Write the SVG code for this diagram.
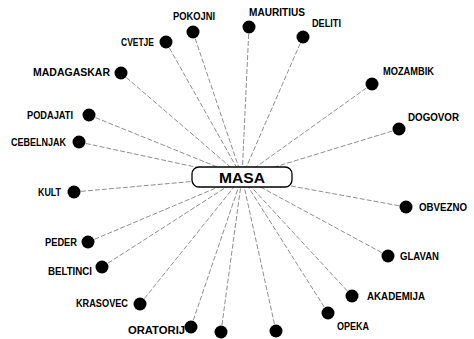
<svg xmlns="http://www.w3.org/2000/svg" width="474" height="339" viewBox="0 0 474 339">
<style>
.c{stroke:#8f8f8f;stroke-width:1;stroke-dasharray:5 2;fill:none}
.n{fill:#000}
.t{font-family:"Liberation Sans",Arial,sans-serif;font-weight:bold;font-size:10px;fill:#000}
.m{font-family:"Liberation Sans",Arial,sans-serif;font-weight:bold;font-size:15px;fill:#000}
</style>
<rect width="474" height="339" fill="#fff"/>
<g id="connectors">
<line class="c" x1="193" y1="32" x2="242" y2="177"/>
<line class="c" x1="166" y1="42" x2="242" y2="177"/>
<line class="c" x1="121" y1="73" x2="242" y2="177"/>
<line class="c" x1="89" y1="115" x2="242" y2="177"/>
<line class="c" x1="79" y1="142" x2="242" y2="177"/>
<line class="c" x1="74" y1="192" x2="242" y2="177"/>
<line class="c" x1="88" y1="242" x2="242" y2="177"/>
<line class="c" x1="102" y1="267" x2="242" y2="177"/>
<line class="c" x1="140" y1="304" x2="242" y2="177"/>
<line class="c" x1="191" y1="327" x2="242" y2="177"/>
<line class="c" x1="221" y1="332" x2="242" y2="177"/>
<line class="c" x1="276" y1="331" x2="242" y2="177"/>
<line class="c" x1="328" y1="313" x2="242" y2="177"/>
<line class="c" x1="352" y1="296" x2="242" y2="177"/>
<line class="c" x1="388" y1="256" x2="242" y2="177"/>
<line class="c" x1="406" y1="207" x2="242" y2="177"/>
<line class="c" x1="399" y1="129" x2="242" y2="177"/>
<line class="c" x1="372" y1="84" x2="242" y2="177"/>
<line class="c" x1="303" y1="37" x2="242" y2="177"/>
<line class="c" x1="249" y1="27" x2="242" y2="177"/>
</g>
<g id="masa">
<rect x="192" y="167" width="100" height="20" rx="7" fill="#fff" stroke="#000" stroke-width="1.3"/>
<text class="m" x="242" y="182.5" text-anchor="middle" textLength="46" lengthAdjust="spacingAndGlyphs">MASA</text>
</g>
<g id="pokojni"><circle class="n" cx="193" cy="32" r="6.5"/><text class="t" x="173" y="19.6" textLength="42" lengthAdjust="spacingAndGlyphs">POKOJNI</text></g>
<g id="cvetje"><circle class="n" cx="166" cy="42" r="6.5"/><text class="t" x="121" y="45.6" textLength="33" lengthAdjust="spacingAndGlyphs">CVETJE</text></g>
<g id="madagaskar"><circle class="n" cx="121" cy="73" r="6.5"/><text class="t" x="33" y="75.6" textLength="77" lengthAdjust="spacingAndGlyphs">MADAGASKAR</text></g>
<g id="podajati"><circle class="n" cx="89" cy="115" r="6.5"/><text class="t" x="27" y="118.6" textLength="46" lengthAdjust="spacingAndGlyphs">PODAJATI</text></g>
<g id="cebelnjak"><circle class="n" cx="79" cy="142" r="6.5"/><text class="t" x="11" y="145.6" textLength="55" lengthAdjust="spacingAndGlyphs">CEBELNJAK</text></g>
<g id="kult"><circle class="n" cx="74" cy="192" r="6.5"/><text class="t" x="38" y="195.6" textLength="23" lengthAdjust="spacingAndGlyphs">KULT</text></g>
<g id="peder"><circle class="n" cx="88" cy="242" r="6.5"/><text class="t" x="45" y="245.6" textLength="32" lengthAdjust="spacingAndGlyphs">PEDER</text></g>
<g id="beltinci"><circle class="n" cx="102" cy="267" r="6.5"/><text class="t" x="48" y="274.6" textLength="44" lengthAdjust="spacingAndGlyphs">BELTINCI</text></g>
<g id="krasovec"><circle class="n" cx="140" cy="304" r="6.5"/><text class="t" x="76" y="306.6" textLength="52" lengthAdjust="spacingAndGlyphs">KRASOVEC</text></g>
<g id="oratorij"><circle class="n" cx="191" cy="327" r="6.5"/><text class="t" x="128" y="333.6" textLength="57" lengthAdjust="spacingAndGlyphs">ORATORIJ</text></g>
<g id="node-a"><circle class="n" cx="221" cy="332" r="6.5"/></g>
<g id="node-b"><circle class="n" cx="276" cy="331" r="6.5"/></g>
<g id="opeka"><circle class="n" cx="328" cy="313" r="6.5"/><text class="t" x="337" y="329.6" textLength="32" lengthAdjust="spacingAndGlyphs">OPEKA</text></g>
<g id="akademija"><circle class="n" cx="352" cy="296" r="6.5"/><text class="t" x="367" y="299.6" textLength="58" lengthAdjust="spacingAndGlyphs">AKADEMIJA</text></g>
<g id="glavan"><circle class="n" cx="388" cy="256" r="6.5"/><text class="t" x="400" y="259.6" textLength="39" lengthAdjust="spacingAndGlyphs">GLAVAN</text></g>
<g id="obvezno"><circle class="n" cx="406" cy="207" r="6.5"/><text class="t" x="419" y="210.6" textLength="48" lengthAdjust="spacingAndGlyphs">OBVEZNO</text></g>
<g id="dogovor"><circle class="n" cx="399" cy="129" r="6.5"/><text class="t" x="408" y="120.6" textLength="51" lengthAdjust="spacingAndGlyphs">DOGOVOR</text></g>
<g id="mozambik"><circle class="n" cx="372" cy="84" r="6.5"/><text class="t" x="383" y="74.6" textLength="51" lengthAdjust="spacingAndGlyphs">MOZAMBIK</text></g>
<g id="deliti"><circle class="n" cx="303" cy="37" r="6.5"/><text class="t" x="312" y="26.6" textLength="29" lengthAdjust="spacingAndGlyphs">DELITI</text></g>
<g id="mauritius"><circle class="n" cx="249" cy="27" r="6.5"/><text class="t" x="249" y="15.6" textLength="56" lengthAdjust="spacingAndGlyphs">MAURITIUS</text></g>
</svg>
